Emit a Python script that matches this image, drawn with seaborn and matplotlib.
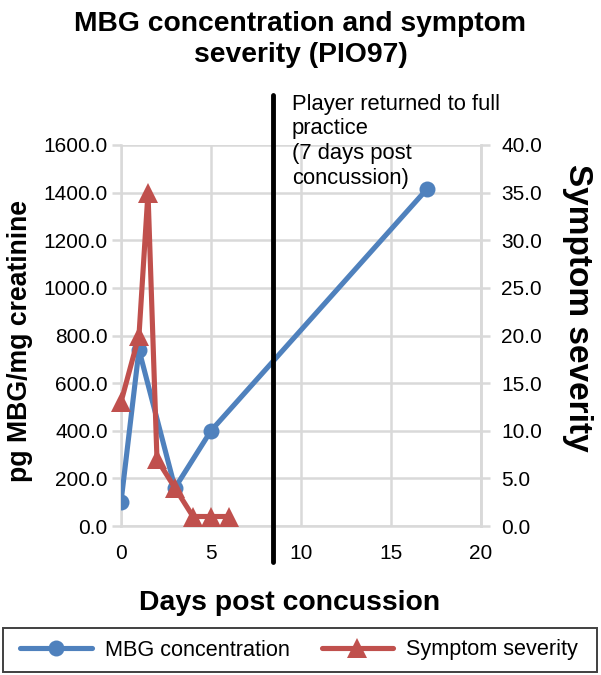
import matplotlib
matplotlib.use("Agg")
import matplotlib.pyplot as plt
import pandas as pd
import seaborn as sns
from matplotlib.lines import Line2D
from matplotlib.patches import Rectangle

# data
mbg_days = [0, 1, 3, 5, 17]
mbg_values = [100, 740, 160, 400, 1415]
sym_days = [0, 1, 1.5, 2, 3, 4, 5, 6]
sym_values = [13, 20, 35, 7, 4, 1, 1, 1]
return_day = 8.45

left_ticks = [0, 200, 400, 600, 800, 1000, 1200, 1400, 1600]
right_ticks = [0, 5, 10, 15, 20, 25, 30, 35, 40]
x_ticks = [0, 5, 10, 15, 20]

blue = "#4F81BD"
red = "#C0504D"
grid_c = "#D9D9D9"

sns.set_style("white")
plt.rcParams['font.family'] = ['Liberation Sans', 'DejaVu Sans']
plt.rcParams['text.color'] = 'black'
plt.rcParams['axes.labelcolor'] = 'black'

df_mbg = pd.DataFrame({"day": mbg_days, "value": mbg_values})
df_sym = pd.DataFrame({"day": sym_days, "value": sym_values})

fig = plt.figure(figsize=(6.01, 6.75), dpi=100)
ax = fig.add_axes([0.2013, 0.2207, 0.599, 0.5645])

sns.lineplot(data=df_mbg, x="day", y="value", ax=ax, color=blue, lw=3.7,
             marker="o", markersize=11.5, markeredgewidth=0, zorder=3)
ax.set_xlim(0, 20)
ax.set_ylim(0, 1600)
ax.set_xticks(x_ticks)
ax.set_yticks(left_ticks)
ax.set_yticklabels([f"{v:.1f}" for v in left_ticks], fontsize=15)
ax.set_xticklabels([str(v) for v in x_ticks], fontsize=15)
ax.grid(True, color=grid_c, lw=1.8)
ax.set_axisbelow(True)
ax.spines["top"].set_visible(False)
for s in ["left", "bottom", "right"]:
    ax.spines[s].set_color(grid_c)
    ax.spines[s].set_linewidth(1.8)
ax.tick_params(axis="y", length=6.5, color=grid_c, width=1.8, pad=3, labelcolor="black")
ax.tick_params(axis="x", length=0, pad=13, labelcolor="black")
ax.set_xlabel("Days post concussion", fontsize=20.4, fontweight="bold", va="center")
ax.xaxis.set_label_coords(0.467, -0.203)
ax.set_ylabel("pg MBG/mg creatinine", fontsize=19.2, fontweight="bold", va="center")
ax.yaxis.set_label_coords(-0.281, 0.486)

ax2 = ax.twinx()
sns.lineplot(data=df_sym, x="day", y="value", ax=ax2, color=red, lw=3.7,
             marker="^", markersize=15, markeredgewidth=0, zorder=4, clip_on=False)
ax2.set_ylim(0, 40)
ax2.set_yticks(right_ticks)
ax2.set_yticklabels([f"{v:.1f}" for v in right_ticks], fontsize=15)
ax2.tick_params(axis="y", length=6.5, color=grid_c, width=1.8, pad=8, labelcolor="black")
ax2.set_ylabel("Symptom severity", fontsize=24, fontweight="bold", rotation=-90, va="center")
ax2.yaxis.set_label_coords(1.267, 0.572)
for s in ["top", "left", "bottom"]:
    ax2.spines[s].set_visible(False)
ax2.spines["right"].set_color(grid_c)
ax2.spines["right"].set_linewidth(1.8)

# return to practice marker
ax.axvline(return_day, ymin=-0.094, ymax=1.131, color="black", lw=3.5, clip_on=False, zorder=5)
ax.text(return_day + 1.05, 1.135, "Player returned to full\npractice\n(7 days post\nconcussion)",
        transform=ax.get_xaxis_transform(), ha="left", va="top", fontsize=15.8, linespacing=1.23)

fig.text(0.5, 0.984, "MBG concentration and symptom\nseverity (PIO97)", ha="center", va="top",
         fontsize=20.3, fontweight="bold", linespacing=1.27)

# legend with a separate frame box
fig.patches.append(Rectangle((3 / 601, 3 / 675), 594 / 601, 44 / 675, transform=fig.transFigure,
                             fill=False, ec="#404040", lw=1.4, figure=fig))
handles = [
    Line2D([0], [0], color=blue, lw=3.7, marker="o", markersize=11.5, markeredgewidth=0),
    Line2D([0], [0], color=red, lw=3.7, marker="^", markersize=15, markeredgewidth=0),
]
leg = fig.legend(handles, ["MBG concentration", "Symptom severity"], loc="center",
                 bbox_to_anchor=(0.498, 25 / 675), ncol=2, frameon=False,
                 fontsize=15.6, handlelength=3.3, handletextpad=0.62, columnspacing=1.45,
                 borderpad=0, borderaxespad=0)

if ax.get_legend():
    ax.get_legend().remove()
if ax2.get_legend():
    ax2.get_legend().remove()

fig.savefig("out.png", dpi=100)
